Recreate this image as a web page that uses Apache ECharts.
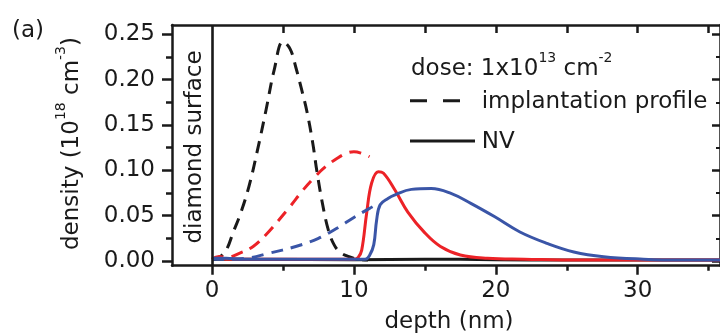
<!DOCTYPE html>
<html>
<head>
<meta charset="utf-8">
<script src="https://cdn.jsdelivr.net/npm/echarts@6/dist/echarts.min.js"></script>
<style>html,body{margin:0;padding:0;background:#fff}#c{width:720px;height:334px}</style>
</head>
<body>
<div id="c"></div>
<script>
// ---- data (depth nm, density 1e18 cm^-3) ----
var xTicks = [0, 10, 20, 30];
var xMinorTicks = [5, 15, 25, 35];
var xTopTicks = [5, 10, 15, 20, 25, 30, 35];
var yTicks = [0, 0.05, 0.10, 0.15, 0.20, 0.25];
var yMinorTicks = [0.025, 0.075, 0.125, 0.175, 0.225];

var implBlack = [[0,0.001],[0.5,0.004],[1,0.012],[1.5,0.032],[2,0.052],[2.6,0.082],[3.2,0.122],[3.8,0.166],[4.4,0.212],[5.0,0.242],[5.5,0.234],[5.9,0.214],[6.3,0.19],[6.7,0.164],[7.1,0.13],[7.4,0.098],[7.8,0.062],[8.2,0.034],[8.6,0.018],[9.0,0.01],[9.6,0.005],[10.3,0.002],[11,0.001]];
var implRed = [[0,0.002],[0.5,0.005],[1,0.004],[2,0.009],[2.9,0.016],[3.8,0.029],[4.7,0.045],[5.5,0.06],[6.4,0.078],[7.2,0.092],[8.0,0.104],[8.8,0.113],[9.5,0.119],[10,0.1205],[10.5,0.119],[11.1,0.115]];
var implBlue = [[0,0.002],[1,0.002],[2.4,0.003],[4,0.0085],[5.9,0.016],[7.5,0.025],[8.9,0.037],[10,0.048],[11.1,0.058],[11.6,0.062]];
var nvBlack = [[0,0.002],[10,0.0015],[15,0.002],[20,0.0015],[25,0.001],[36,0.001]];
var nvRed = [[0,0.002],[0.5,0.004],[1,0.002],[10,0.002],[10.3,0.004],[10.55,0.012],[10.9,0.053],[11.25,0.086],[11.72,0.0985],[12.07,0.097],[12.9,0.078],[13.8,0.054],[15.0,0.031],[16.1,0.016],[17.5,0.0066],[19.4,0.003],[22,0.002],[26,0.001],[36,0.001]];
var nvBlue = [[0,0.003],[1,0.003],[2,0.002],[10.8,0.002],[11.1,0.006],[11.4,0.018],[11.6,0.045],[11.85,0.062],[12.4,0.069],[12.9,0.073],[14.05,0.079],[15.45,0.080],[16.84,0.0746],[18.24,0.0636],[19.9,0.049],[21.7,0.032],[23.6,0.0195],[25.5,0.010],[27.6,0.0047],[30.4,0.002],[33,0.001],[36,0.001]];

var FONT = 'DejaVu Sans';
var INK = '#1a1a1a';
var RED = '#ec2227';
var BLUE = '#3a55a7';

function axisLineStyle(){ return {show:true, onZero:false, lineStyle:{color:INK, width:2.5}}; }
function noLine(){ return {show:false, onZero:false}; }

var chart = echarts.init(document.getElementById('c'), null, {renderer:'canvas'});

function lineSeries(name, data, color, dashed){
  return {
    name:name, type:'line', data:data, xAxisIndex:0, yAxisIndex:0,
    showSymbol:false, symbol:'none', smooth:0.4,
    lineStyle:{color:color, width:3, type: dashed ? [12,8] : 'solid', cap:'butt', join:'round'},
    silent:true, animation:false, z:3
  };
}

var XMIN = -2.82, XMAX = 35.8, YMIN = -0.0052, YMAX = 0.2603;

var option = {
  animation:false,
  backgroundColor:'#fff',
  textStyle:{fontFamily:FONT},
  grid:{left:172, top:25, width:552.7, height:240.7, containLabel:false},
  xAxis:[
    {type:'value', position:'bottom', min:XMIN, max:XMAX,
     axisLine:axisLineStyle(),
     axisTick:{show:true, inside:false, length:9, lineStyle:{color:INK,width:2.5}, customValues:xTicks},
     axisLabel:{show:true, customValues:xTicks, margin:14, color:INK, fontSize:23, fontFamily:FONT},
     splitLine:{show:false}},
    {type:'value', position:'bottom', min:XMIN, max:XMAX,
     axisLine:noLine(),
     axisTick:{show:true, inside:false, length:5, lineStyle:{color:INK,width:2.5}, customValues:xMinorTicks},
     axisLabel:{show:false}, splitLine:{show:false}},
    {type:'value', position:'top', min:XMIN, max:XMAX,
     axisLine:axisLineStyle(),
     axisTick:{show:true, inside:true, length:8, lineStyle:{color:INK,width:2.5}, customValues:xTopTicks},
     axisLabel:{show:false}, splitLine:{show:false}}
  ],
  yAxis:[
    {type:'value', position:'left', min:YMIN, max:YMAX,
     axisLine:axisLineStyle(),
     axisTick:{show:true, inside:false, length:10, lineStyle:{color:INK,width:2.5}, customValues:yTicks},
     axisLabel:{show:true, customValues:yTicks, margin:17, color:INK, fontSize:23, fontFamily:FONT,
       formatter:function(v){return v.toFixed(2);}},
     splitLine:{show:false}},
    {type:'value', position:'left', min:YMIN, max:YMAX,
     axisLine:noLine(),
     axisTick:{show:true, inside:false, length:6, lineStyle:{color:INK,width:2.5}, customValues:yMinorTicks},
     axisLabel:{show:false}, splitLine:{show:false}},
    {type:'value', position:'right', min:YMIN, max:YMAX,
     axisLine:axisLineStyle(),
     axisTick:{show:true, inside:true, length:8, lineStyle:{color:INK,width:2.5}, customValues:yTicks},
     axisLabel:{show:false}, splitLine:{show:false}},
    {type:'value', position:'right', min:YMIN, max:YMAX,
     axisLine:noLine(),
     axisTick:{show:true, inside:true, length:4, lineStyle:{color:INK,width:2}, customValues:yMinorTicks},
     axisLabel:{show:false}, splitLine:{show:false}}
  ],
  series:[
    {type:'line', data:[], xAxisIndex:0, yAxisIndex:0, silent:true,
     markLine:{silent:true, symbol:['none','none'], label:{show:false},
       lineStyle:{color:INK, width:2.6, type:'solid'},
       data:[{xAxis:0}], animation:false}},
    lineSeries('nvBlack', nvBlack, INK, false),
    lineSeries('implBlack', implBlack, INK, true),
    lineSeries('implRed', implRed, RED, true),
    lineSeries('nvRed', nvRed, RED, false),
    lineSeries('implBlue', implBlue, BLUE, true),
    lineSeries('nvBlue', nvBlue, BLUE, false)
  ],
  graphic:[
    {type:'text', x:28, y:31, style:{text:'(a)', fontSize:23, fontFamily:FONT, fill:INK, textAlign:'center', textVerticalAlign:'middle'}},
    {type:'text', x:69, y:143.5, rotation:Math.PI/2,
     style:{text:'{a|density (10}{s|18}{a| cm}{s|-3}{a|)}', fill:INK, textAlign:'center', textVerticalAlign:'middle',
       rich:{a:{fontSize:23, fontFamily:FONT, fill:INK, lineHeight:30, verticalAlign:'bottom'},
             s:{fontSize:14, fontFamily:FONT, fill:INK, lineHeight:30, verticalAlign:'top'}}}},
    {type:'text', x:195, y:147, rotation:Math.PI/2, z:10,
     style:{text:'diamond surface', fontSize:23, fontFamily:FONT, fill:INK, textAlign:'center', textVerticalAlign:'middle'}},
    {type:'text', x:449, y:322, style:{text:'depth (nm)', fontSize:23, fontFamily:FONT, fill:INK, textAlign:'center', textVerticalAlign:'middle'}},
    {type:'text', x:411, y:66, z:10,
     style:{text:'{a|dose: 1x10}{s|13}{a| cm}{s|-2}', fill:INK, textAlign:'left', textVerticalAlign:'middle',
       rich:{a:{fontSize:23, fontFamily:FONT, fill:INK, lineHeight:30, verticalAlign:'bottom'},
             s:{fontSize:14, fontFamily:FONT, fill:INK, lineHeight:30, verticalAlign:'top'}}}},
    {type:'line', z:10, shape:{x1:410, y1:100.7, x2:460, y2:100.7}, style:{stroke:INK, lineWidth:3, lineDash:[17,16]}},
    {type:'text', x:481.7, y:101.7, z:10, style:{text:'implantation profile', fontSize:23, fontFamily:FONT, fill:INK, textAlign:'left', textVerticalAlign:'middle'}},
    {type:'line', z:10, shape:{x1:410, y1:141, x2:475, y2:141}, style:{stroke:INK, lineWidth:3}},
    {type:'text', x:481.7, y:141.7, z:10, style:{text:'NV', fontSize:23, fontFamily:FONT, fill:INK, textAlign:'left', textVerticalAlign:'middle'}}
  ]
};
chart.setOption(option);
</script>
</body>
</html>
